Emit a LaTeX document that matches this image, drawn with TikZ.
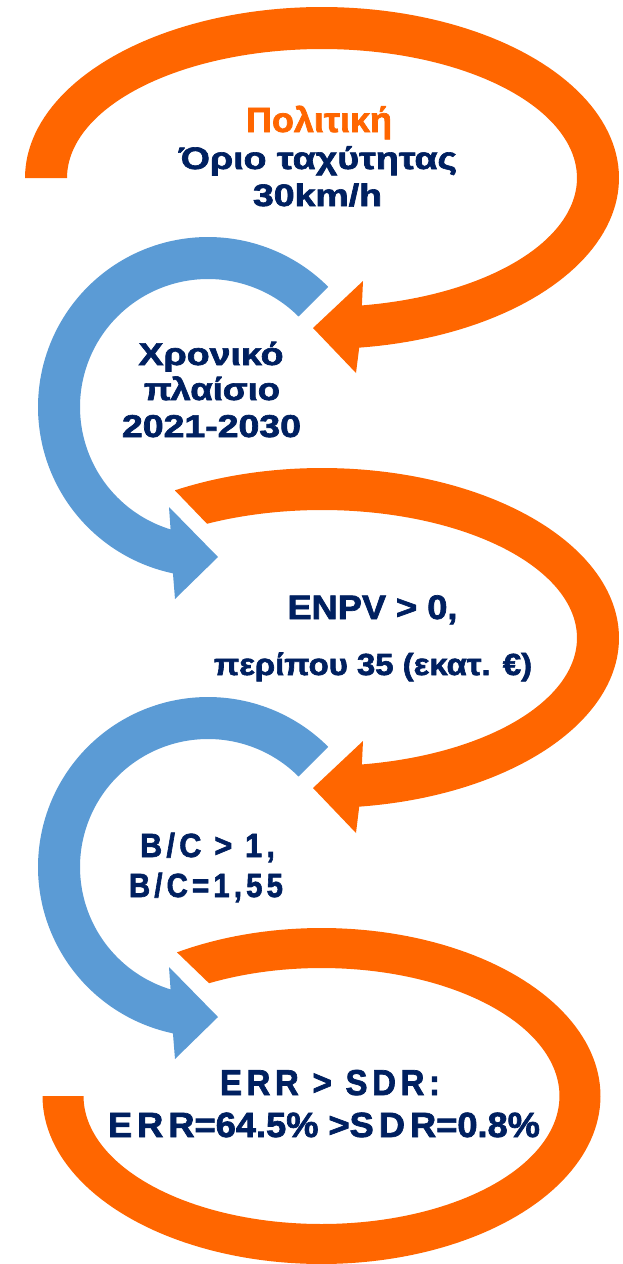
\documentclass[tikz,border=0pt]{standalone}
\usepackage{fontspec}
\usepackage{graphicx}
\setmainfont{Liberation Sans}[BoldFeatures={FakeBold=2}]
\definecolor{loopor}{HTML}{FF6600}
\definecolor{loopbl}{HTML}{5B9BD5}
\definecolor{txtnavy}{HTML}{002060}
% stretch a line horizontally to a given width, keeping its height
\newcommand{\fitline}[2]{\resizebox{#1}{\height}{#2}}
\newcommand{\spaced}[1]{{\addfontfeature{LetterSpace=14}#1}}
\tikzset{
  lbl/.style={anchor=base, inner sep=0pt, text=txtnavy, font=\bfseries},
}
\begin{document}
\begin{tikzpicture}[x=1pt,y=-1pt]
\useasboundingbox (0,0) rectangle (623,1264);

% ---- top orange loop with head
\fill[loopor]
  plot[domain=180:442.8,samples=140] ({322+297*cos(\x)},{178+171*sin(\x)})
  -- (356,373) -- (313,328) -- (363,281)
  -- plot[domain=441:180,samples=140] ({322+255*cos(\x)},{178+129*sin(\x)}) -- cycle;

% ---- first blue loop
\fill[loopbl]
  plot[domain=-45:-258.1,samples=140] ({208+170*cos(\x)},{407+170*sin(\x)})
  -- (175,599) -- (218,557) -- (169,507)
  -- plot[domain=-253:-45,samples=140] ({208+128*cos(\x)},{407+128*sin(\x)}) -- cycle;

% ---- middle orange loop
\fill[loopor]
  plot[domain=240.3:442.8,samples=140] ({322+297*cos(\x)},{638+170*sin(\x)})
  -- (356,833) -- (313,788) -- (363,741)
  -- plot[domain=441:243.2,samples=140] ({322+255*cos(\x)},{638+128*sin(\x)}) -- cycle;

% ---- second blue loop
\fill[loopbl]
  plot[domain=-45:-258.1,samples=140] ({208+170*cos(\x)},{867+170*sin(\x)})
  -- (175,1059) -- (218,1017) -- (169,967)
  -- plot[domain=-253:-45,samples=140] ({208+128*cos(\x)},{867+128*sin(\x)}) -- cycle;

% ---- bottom orange loop (no head)
\fill[loopor]
  plot[domain=238.8:540,samples=160] ({321.5+279*cos(\x)},{1096+168*sin(\x)})
  -- plot[domain=540:241.8,samples=160] ({321.5+238*cos(\x)},{1096+128*sin(\x)}) -- cycle;

% ---- labels
\node[lbl, text=loopor, font=\bfseries\fontsize{35}{40}\selectfont] (t1) at (319,132) {\fitline{146pt}{Πολιτική}};
\node[lbl, font=\bfseries\fontsize{31}{36}\selectfont] (t2) at (318,169) {\fitline{278pt}{Όριο ταχύτητας}};
\node[lbl, font=\bfseries\fontsize{31}{36}\selectfont] (t3) at (317.5,206) {\fitline{129pt}{30km/h}};

\node[lbl, font=\bfseries\fontsize{31.5}{36}\selectfont] (t4) at (211,365) {\fitline{145pt}{Χρονικό}};
\node[lbl, font=\bfseries\fontsize{31.5}{36}\selectfont] (t5) at (212,400) {\fitline{136pt}{πλαίσιο}};
\node[lbl, font=\bfseries\fontsize{31.5}{36}\selectfont] (t6) at (211.5,437) {\fitline{179pt}{2021-2030}};

\node[lbl, font=\bfseries\fontsize{34}{40}\selectfont] (t7) at (372.5,619) {\fitline{170pt}{ENPV > 0,}};
\node[lbl, font=\bfseries\fontsize{30.5}{34}\selectfont] (t8) at (373,675) {\fitline{318pt}{περίπου 35 (εκατ. €)}};

\node[lbl, font=\bfseries\fontsize{33.5}{38}\selectfont] (t9) at (207.5,857) {\fitline{135pt}{\spaced{B/C > 1,}}};
\node[lbl, font=\bfseries\fontsize{33.5}{38}\selectfont] (t10) at (206,897) {\fitline{154pt}{\spaced{B/C=1,55}}};

\node[lbl, font=\bfseries\fontsize{36}{40}\selectfont] (t11) at (330,1095) {\fitline{220pt}{\spaced{ERR > SDR:}}};
\node[lbl, font=\bfseries\fontsize{35}{40}\selectfont] (t12) at (324,1137) {\fitline{432pt}{\spaced{ERR}=64.5\% >\spaced{SDR}=0.8\%}};
\end{tikzpicture}
\end{document}
